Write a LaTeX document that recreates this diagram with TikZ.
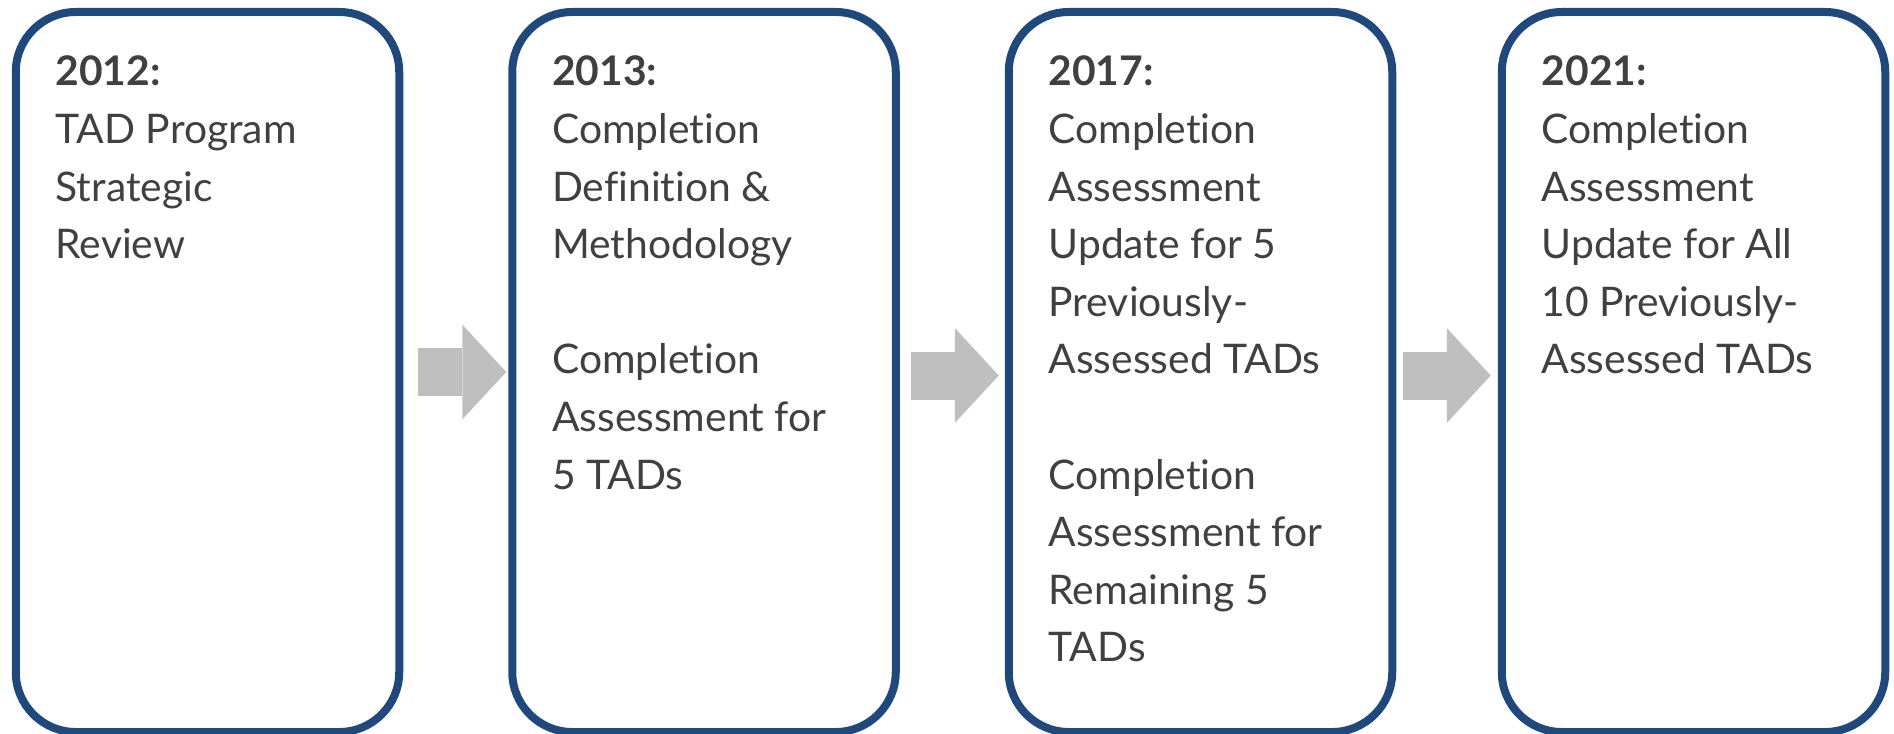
\documentclass[tikz,border=0pt]{standalone}
\usepackage{fontspec}
\setmainfont{Lato}[RawFeature={-liga;-clig;-dlig;-calt}]
\usetikzlibrary{positioning,arrows.meta}
\definecolor{boxblue}{HTML}{1F497D}
\definecolor{textgray}{HTML}{404040}
\definecolor{arrowgray}{HTML}{BFBFBF}
\tikzset{
  % timeline boxes and their text
  stepbox/.style={draw=boxblue,line width=4pt,rounded corners=30pt,inner sep=0pt,minimum width=191.75pt,minimum height=360pt},
  steptext/.style={align=left,inner sep=0pt,text=textgray,font=\fontsize{20.4pt}{28.8pt}\selectfont},
  % grey block arrows between the boxes
  flow/.style={draw=arrowgray,line width=24pt,-{Triangle[length=22pt,width=47.5pt,line width=0pt]}},
}
\begin{document}
\begin{tikzpicture}[x=0.5pt,y=-0.5pt]
  \useasboundingbox (0,0) rectangle (1894,733);
  \node[stepbox] (b1) at (207.5,372) {};
  \node[stepbox] (b2) at (704,372) {};
  \node[stepbox] (b3) at (1200.5,372) {};
  \node[stepbox] (b4) at (1693.5,372) {};
  \node[steptext,below right=23.8pt and 21.75pt of b1.north west] (t1)
    {\textbf{2012:}\\TAD Program\\Strategic\\Review};
  \node[steptext,below right=23.8pt and 21.75pt of b2.north west] (t2)
    {\textbf{2013:}\\Completion\\Definition \&\\Methodology\\[28.8pt]Completion\\Assessment for\\5 TADs};
  \node[steptext,below right=23.8pt and 21.75pt of b3.north west] (t3)
    {\textbf{2017:}\\Completion\\Assessment\\Update for 5\\Previously-\\Assessed TADs\\[28.8pt]Completion\\Assessment for\\Remaining 5\\TADs};
  \node[steptext,below right=23.8pt and 21.75pt of b4.north west] (t4)
    {\textbf{2021:}\\Completion\\Assessment\\Update for All\\10 Previously-\\Assessed TADs};
  \draw[flow,shorten <=7.5pt,shorten >=1pt] (b1) -- (b2);
  \draw[flow,shorten <=5.5pt,shorten >=3pt] ([yshift=-1.75pt]b2.east) -- ([yshift=-1.75pt]b3.west);
  \draw[flow,shorten <=3.5pt,shorten >=3.5pt] ([yshift=-1.75pt]b3.east) -- ([yshift=-1.75pt]b4.west);
\end{tikzpicture}
\end{document}
